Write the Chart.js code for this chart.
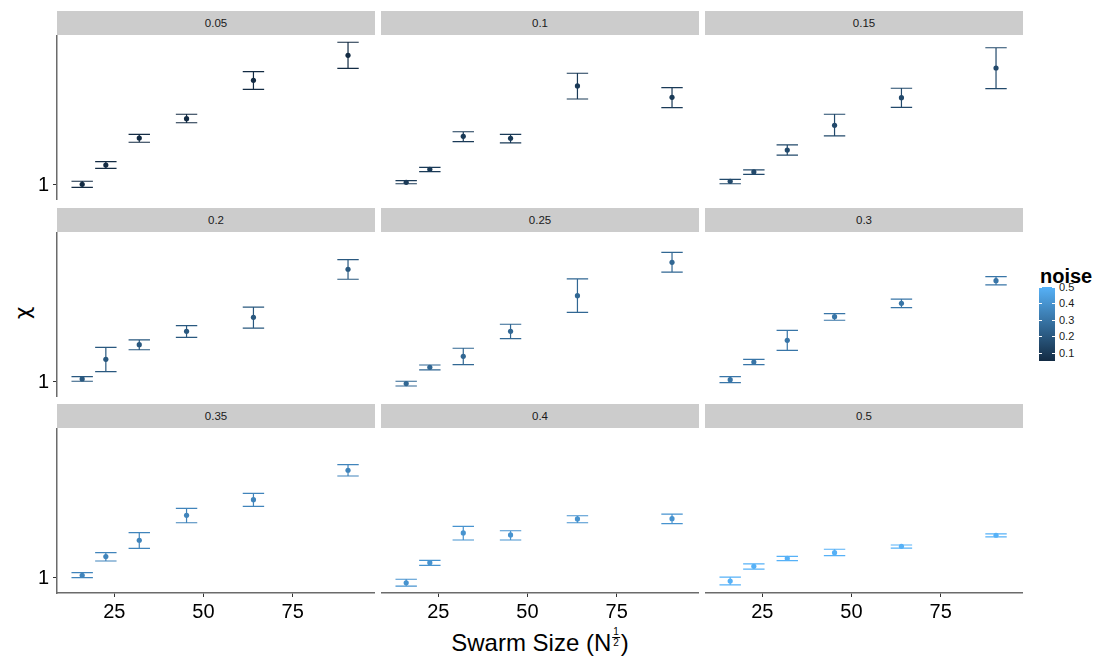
<!DOCTYPE html>
<html>
<head>
<meta charset="utf-8">
<script src="https://cdn.jsdelivr.net/npm/chart.js@4"></script>
<style>
  body { margin: 0; background: #fff; font-family: "Liberation Sans", Arial, sans-serif; }
  #wrap { position: relative; width: 1096px; height: 659px; overflow: hidden; }
  .panel { position: absolute; }
  .strip { position: absolute; height: 24px; line-height: 24px; background: #cccccc; color: #1a1a1a; font-size: 11.5px; text-align: center; }
  #ytitle { position: absolute; left: 22px; top: 313px; font-size: 22px; font-family: "DejaVu Sans", sans-serif; transform: translate(-50%, -50%) rotate(-90deg); }
  #xtitle { position: absolute; left: 540px; top: 627px; font-size: 24px; line-height: 28px; transform: translateX(-50%); white-space: nowrap; }
  .frac { display: inline-block; font-size: 10px; line-height: 10px; text-align: center; vertical-align: 5px; margin: 0 1px; }
  .frac span { display: block; padding: 0 1px; }
  .frac span + span { border-top: 1px solid #000; }
  #ltitle { position: absolute; left: 1040px; top: 266px; font-size: 20px; line-height: 20px; font-weight: bold; }
  #lbar { position: absolute; left: 1039px; top: 287px; width: 16px; height: 74px; }
  .lab { position: absolute; left: 1059px; font-size: 11px; line-height: 12px; color: #1a1a1a; }
  .tk { position: absolute; width: 3px; height: 1px; background: #fff; }
</style>
</head>
<body>
<div id="wrap">
  <div id="ytitle">χ</div>
  <div id="xtitle">Swarm Size (N<span class="frac"><span>1</span><span>2</span></span>)</div>
  <div id="ltitle">noise</div>
  <div id="lbar"></div>
</div>
<script>
// facet values (noise)
const noiseLevels = [0.05, 0.1, 0.15, 0.2, 0.25, 0.3, 0.35, 0.4, 0.5]
// swarm size, sqrt(N)
const swarmSizes = [16, 22.63, 32, 45.25, 64, 90.51]

const chiMean = [
  [1.004, 1.117, 1.298, 1.445, 1.788, 2.055],
  [1.015, 1.091, 1.310, 1.296, 1.733, 1.627],
  [1.021, 1.075, 1.214, 1.393, 1.624, 1.915],
  [1.017, 1.134, 1.230, 1.325, 1.432, 1.870],
  [0.991, 1.085, 1.153, 1.325, 1.615, 1.944],
  [1.013, 1.117, 1.260, 1.437, 1.548, 1.755],
  [1.015, 1.126, 1.233, 1.416, 1.545, 1.819],
  [0.974, 1.089, 1.284, 1.270, 1.388, 1.390],
  [0.983, 1.067, 1.115, 1.151, 1.192, 1.268]
]
const chiLow = [
  [0.987, 1.097, 1.268, 1.413, 1.701, 1.911],
  [1.007, 1.077, 1.272, 1.263, 1.612, 1.536],
  [1.007, 1.061, 1.181, 1.313, 1.539, 1.707],
  [1.004, 1.059, 1.196, 1.281, 1.349, 1.769],
  [0.978, 1.069, 1.101, 1.272, 1.472, 1.840],
  [0.996, 1.101, 1.192, 1.409, 1.511, 1.714],
  [1.002, 1.099, 1.179, 1.359, 1.489, 1.762],
  [0.956, 1.073, 1.235, 1.235, 1.359, 1.352],
  [0.962, 1.051, 1.101, 1.132, 1.181, 1.256]
]
const chiHigh = [
  [1.021, 1.138, 1.325, 1.481, 1.876, 2.209],
  [1.024, 1.103, 1.344, 1.325, 1.860, 1.717],
  [1.032, 1.087, 1.249, 1.481, 1.711, 2.143],
  [1.030, 1.212, 1.263, 1.367, 1.516, 1.972],
  [1.004, 1.099, 1.206, 1.378, 1.772, 2.055],
  [1.030, 1.134, 1.332, 1.461, 1.585, 1.795],
  [1.030, 1.151, 1.286, 1.472, 1.600, 1.876],
  [0.993, 1.103, 1.332, 1.300, 1.413, 1.426],
  [1.005, 1.081, 1.128, 1.173, 1.201, 1.277]
]

const xTicks = [25, 50, 75]
const yTicks = [1]
const legendTicks = [0.1, 0.2, 0.3, 0.4, 0.5]

// layout stuff
const xMin = 8.94, xMax = 98.07
const yMin = 0.92, yMax = 2.3
const colLeft = [57, 381, 705]
const rowTop = [35, 232, 428]
const panelW = 318, panelH = 165
const yAxisW = 57, xAxisH = 45
const capHalf = 3
const FONT = '"Liberation Sans", Arial, sans-serif'

const lowColor = [19, 43, 67], highColor = [86, 177, 247]
const noiseMin = 0.05, noiseMax = 0.5
const noiseColor = (n) => {
  const t = (n - noiseMin) / (noiseMax - noiseMin)
  const c = lowColor.map((v, k) => Math.round(v + t * (highColor[k] - v)))
  return `rgb(${c[0]},${c[1]},${c[2]})`
}

const wrap = document.getElementById('wrap')

const errorBars = {
  id: 'errorBars',
  beforeDatasetsDraw(chart, args, opts) {
    const { ctx, scales: { x, y } } = chart
    ctx.save()
    ctx.strokeStyle = opts.color
    ctx.lineWidth = 1.2
    swarmSizes.forEach((sx, j) => {
      const px = x.getPixelForValue(sx)
      const x0 = x.getPixelForValue(sx - capHalf)
      const x1 = x.getPixelForValue(sx + capHalf)
      const yl = y.getPixelForValue(opts.low[j])
      const yh = y.getPixelForValue(opts.high[j])
      ctx.beginPath()
      ctx.moveTo(px, yl); ctx.lineTo(px, yh)
      ctx.moveTo(x0, yl); ctx.lineTo(x1, yl)
      ctx.moveTo(x0, yh); ctx.lineTo(x1, yh)
      ctx.stroke()
    })
    ctx.restore()
  }
}

noiseLevels.forEach((noise, i) => {
  const col = i % 3, row = Math.floor(i / 3)
  const isLeft = col === 0, isBottom = row === 2
  const c = noiseColor(noise)

  const strip = document.createElement('div')
  strip.className = 'strip'
  strip.style.left = colLeft[col] + 'px'
  strip.style.top = (rowTop[row] - 24) + 'px'
  strip.style.width = panelW + 'px'
  strip.textContent = noise
  wrap.appendChild(strip)

  const div = document.createElement('div')
  div.className = 'panel'
  div.style.left = (colLeft[col] - (isLeft ? yAxisW : 0)) + 'px'
  div.style.top = rowTop[row] + 'px'
  div.style.width = (panelW + (isLeft ? yAxisW : 0)) + 'px'
  div.style.height = (panelH + (isBottom ? xAxisH : 0)) + 'px'
  const canvas = document.createElement('canvas')
  div.appendChild(canvas)
  wrap.appendChild(div)

  new Chart(canvas, {
    type: 'scatter',
    data: {
      datasets: [{
        data: swarmSizes.map((x, j) => ({ x: x, y: chiMean[i][j] })),
        backgroundColor: c,
        borderColor: c,
        borderWidth: 0,
        pointRadius: 2.6,
        pointHoverRadius: 2.6
      }]
    },
    options: {
      responsive: true,
      maintainAspectRatio: false,
      animation: false,
      events: [],
      layout: { padding: 0, autoPadding: false },
      plugins: {
        legend: { display: false },
        tooltip: { enabled: false },
        errorBars: { low: chiLow[i], high: chiHigh[i], color: c }
      },
      scales: {
        x: {
          type: 'linear', min: xMin, max: xMax, display: isBottom,
          afterBuildTicks: (s) => { s.ticks = xTicks.map(v => ({ value: v })) },
          afterFit: (s) => {
            s.height = isBottom ? xAxisH : 0
            s.paddingLeft = 0; s.paddingRight = 0
          },
          grid: { drawOnChartArea: false, tickLength: 4, tickColor: '#333', tickWidth: 1 },
          border: { color: '#6b6b6b', width: 1.5 },
          ticks: { color: '#000', padding: 3, maxRotation: 0, font: { size: 20, family: FONT }, callback: (v) => String(v) }
        },
        y: {
          type: 'logarithmic', min: yMin, max: yMax, display: isLeft,
          afterBuildTicks: (s) => { s.ticks = yTicks.map(v => ({ value: v })) },
          afterFit: (s) => {
            s.width = isLeft ? yAxisW : 0
            s.paddingTop = 0; s.paddingBottom = 0
          },
          grid: { drawOnChartArea: false, tickLength: 4, tickColor: '#333', tickWidth: 1 },
          border: { color: '#6b6b6b', width: 1.5 },
          ticks: { color: '#000', padding: 4, font: { size: 20, family: FONT }, callback: (v) => String(v) }
        }
      }
    },
    plugins: [errorBars]
  })
})

// colourbar legend
const lbar = document.getElementById('lbar')
lbar.style.background = `linear-gradient(to top, ${noiseColor(noiseMin)}, ${noiseColor(noiseMax)})`
const barTop = 287, barH = 74, barLeft = 1039, barW = 16
legendTicks.forEach(v => {
  const y = barTop + (noiseMax - v) / (noiseMax - noiseMin) * barH
  const lab = document.createElement('div')
  lab.className = 'lab'
  lab.style.top = (y - 6) + 'px'
  lab.textContent = v
  wrap.appendChild(lab)
  ;[barLeft, barLeft + barW - 3].forEach(tx => {
    const tk = document.createElement('div')
    tk.className = 'tk'
    tk.style.left = tx + 'px'
    tk.style.top = Math.round(y) + 'px'
    wrap.appendChild(tk)
  })
})
</script>
</body>
</html>
